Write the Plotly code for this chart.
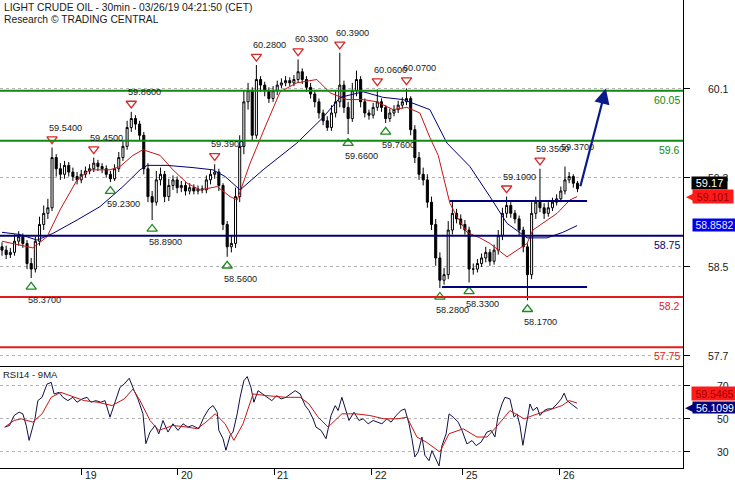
import plotly.graph_objects as go
from plotly.subplots import make_subplots

# ---------------- price data (hourly bars, index 0..138) ----------------
opens = [58.65, 58.62, 58.58, 58.60, 58.70, 58.74, 58.68, 58.50, 58.45, 58.70,
         58.85, 58.95, 59.00, 59.45, 59.35, 59.30, 59.38, 59.32, 59.28, 59.25,
         59.30, 59.33, 59.35, 59.40, 59.37, 59.35, 59.30, 59.26, 59.35, 59.45,
         59.55, 59.72, 59.80, 59.75, 59.65, 59.35, 59.10, 59.05, 59.25, 59.30,
         59.10, 59.20, 59.25, 59.18, 59.20, 59.15, 59.18, 59.15, 59.17, 59.16,
         59.25, 59.30, 59.32, 59.20, 58.85, 58.65, 58.68, 59.10, 59.55, 59.95,
         60.05, 59.65, 60.15, 60.10, 60.05, 59.98, 60.05, 60.10, 60.12, 60.14,
         60.12, 60.15, 60.22, 60.15, 60.08, 60.02, 59.95, 59.85, 59.78, 59.72,
         59.85, 59.95, 60.10, 59.90, 59.80, 60.05, 60.15, 59.95, 59.85, 59.83,
         59.90, 59.95, 59.90, 59.80, 59.85, 59.88, 59.92, 59.95, 59.98, 59.70,
         59.45, 59.30, 59.25, 59.05, 58.85, 58.55, 58.35, 58.40, 58.80, 58.95,
         58.90, 58.85, 58.80, 58.45, 58.45, 58.50, 58.55, 58.60, 58.52, 58.62,
         58.75, 58.95, 59.02, 58.95, 58.90, 58.80, 58.65, 58.40, 58.95, 59.05,
         59.00, 58.95, 59.00, 59.05, 59.08, 59.15, 59.25, 59.28, 59.22]
highs = [58.69, 58.66, 58.64, 58.76, 58.79, 58.77, 58.71, 58.55, 58.74, 58.92,
         59.02, 59.08, 59.54, 59.48, 59.40, 59.42, 59.41, 59.36, 59.32, 59.34,
         59.37, 59.39, 59.45, 59.43, 59.40, 59.38, 59.33, 59.39, 59.50, 59.60,
         59.78, 59.86, 59.83, 59.78, 59.68, 59.40, 59.15, 59.33, 59.36, 59.33,
         59.26, 59.29, 59.28, 59.24, 59.23, 59.22, 59.21, 59.20, 59.20, 59.29,
         59.34, 59.39, 59.35, 59.22, 58.88, 58.75, 59.18, 59.65, 60.05, 60.12,
         60.08, 60.28, 60.18, 60.13, 60.08, 60.09, 60.14, 60.16, 60.18, 60.17,
         60.19, 60.33, 60.25, 60.18, 60.12, 60.05, 59.98, 59.88, 59.82, 59.92,
         60.05, 60.39, 60.14, 59.95, 60.12, 60.23, 60.18, 59.98, 59.88, 59.94,
         60.06, 59.98, 59.92, 59.89, 59.92, 59.96, 59.99, 60.07, 60.00, 59.74,
         59.50, 59.36, 59.30, 59.10, 58.90, 58.60, 58.46, 58.88, 59.07, 58.99,
         58.94, 58.89, 58.83, 58.50, 58.54, 58.59, 58.65, 58.63, 58.67, 58.80,
         59.00, 59.10, 59.05, 58.98, 58.93, 58.83, 58.68, 59.05, 59.10, 59.35,
         59.04, 59.05, 59.09, 59.12, 59.19, 59.37, 59.32, 59.30, 59.24]
lows = [58.57, 58.54, 58.55, 58.57, 58.66, 58.64, 58.45, 58.37, 58.42, 58.66,
        58.80, 58.90, 58.97, 59.28, 59.25, 59.26, 59.28, 59.24, 59.21, 59.22,
        59.27, 59.30, 59.32, 59.33, 59.31, 59.27, 59.23, 59.24, 59.32, 59.42,
        59.52, 59.68, 59.70, 59.60, 59.30, 59.05, 58.89, 59.02, 59.20, 59.05,
        59.06, 59.16, 59.13, 59.14, 59.11, 59.12, 59.12, 59.12, 59.13, 59.13,
        59.21, 59.26, 59.15, 58.80, 58.56, 58.60, 58.64, 59.05, 59.48, 59.88,
        59.60, 59.62, 60.04, 60.00, 59.94, 59.95, 60.01, 60.07, 60.09, 60.09,
        60.09, 60.12, 60.11, 60.04, 59.98, 59.90, 59.80, 59.74, 59.69, 59.69,
        59.81, 59.90, 59.85, 59.66, 59.77, 60.00, 59.90, 59.81, 59.79, 59.80,
        59.87, 59.86, 59.76, 59.77, 59.82, 59.85, 59.89, 59.92, 59.65, 59.40,
        59.25, 59.20, 59.00, 58.80, 58.48, 58.28, 58.31, 58.36, 58.76, 58.86,
        58.81, 58.76, 58.33, 58.40, 58.42, 58.47, 58.51, 58.48, 58.49, 58.58,
        58.71, 58.91, 58.91, 58.86, 58.75, 58.60, 58.17, 58.36, 58.90, 58.96,
        58.90, 58.92, 58.97, 59.02, 59.05, 59.12, 59.22, 59.18, 59.14]
closes = [58.62, 58.58, 58.60, 58.70, 58.74, 58.68, 58.50, 58.45, 58.70, 58.85,
          58.95, 59.00, 59.45, 59.35, 59.30, 59.38, 59.32, 59.28, 59.25, 59.30,
          59.33, 59.35, 59.40, 59.37, 59.35, 59.30, 59.26, 59.35, 59.45, 59.55,
          59.72, 59.80, 59.75, 59.65, 59.35, 59.10, 59.05, 59.25, 59.30, 59.10,
          59.20, 59.25, 59.18, 59.20, 59.15, 59.18, 59.15, 59.17, 59.16, 59.25,
          59.30, 59.32, 59.20, 58.85, 58.65, 58.68, 59.10, 59.55, 59.95, 60.05,
          59.65, 60.15, 60.10, 60.05, 59.98, 60.05, 60.10, 60.12, 60.14, 60.12,
          60.15, 60.22, 60.15, 60.08, 60.02, 59.95, 59.85, 59.78, 59.72, 59.85,
          59.95, 60.10, 59.90, 59.80, 60.05, 60.15, 59.95, 59.85, 59.83, 59.90,
          59.95, 59.90, 59.80, 59.85, 59.88, 59.92, 59.95, 59.98, 59.70, 59.45,
          59.30, 59.25, 59.05, 58.85, 58.55, 58.35, 58.40, 58.80, 58.95, 58.90,
          58.85, 58.80, 58.45, 58.45, 58.50, 58.55, 58.60, 58.52, 58.62, 58.75,
          58.95, 59.02, 58.95, 58.90, 58.80, 58.65, 58.40, 58.95, 59.05, 59.00,
          58.95, 59.00, 59.05, 59.08, 59.15, 59.25, 59.28, 59.22, 59.17]
bar_index = list(range(len(closes)))

# moving averages (bar index, price)
ma_fast_x = [0, 7.4, 10.8, 13.9, 18.0, 21.1, 25.9, 28.3, 31.4, 33.8, 37.9, 41.0, 44.4, 47.5,
             51.6, 54.7, 56.4, 59.5, 63.5, 66.7, 70.7, 75.5, 78.7, 82.7, 86.6, 89.9, 93.8,
             97.1, 100.2, 102.6, 104.6, 106.0, 107.4, 109.1, 111.5, 114.6, 117.0, 121.1,
             123.5, 125.9, 127.3, 130.7, 133.1, 136.2, 137.9]
ma_fast_y = [58.70, 58.64, 58.74, 58.98, 59.25, 59.34, 59.34, 59.37, 59.47, 59.52, 59.47,
             59.34, 59.22, 59.16, 59.19, 59.10, 59.07, 59.40, 59.76, 60.04, 60.12, 60.15,
             60.03, 59.97, 59.97, 59.95, 59.88, 59.90, 59.85, 59.63, 59.47, 59.25, 59.04,
             58.92, 58.78, 58.73, 58.68, 58.56, 58.62, 58.68, 58.80, 58.89, 58.95, 59.07,
             59.10]
ma_slow_x = [0, 4.3, 8.4, 12.2, 18.0, 23.5, 29.0, 33.1, 34.8, 39.6, 45.8, 50.6, 53.5, 55.4,
             57.1, 62.6, 70.7, 77.0, 81.1, 86.6, 91.4, 96.2, 102.6, 106.7, 112.2, 117.0,
             121.1, 125.9, 130.7, 134.5, 137.9]
ma_slow_y = [58.78, 58.76, 58.71, 58.77, 58.89, 59.01, 59.19, 59.34, 59.38, 59.38, 59.36,
             59.34, 59.28, 59.22, 59.16, 59.34, 59.58, 59.81, 59.99, 60.04, 59.99, 59.97,
             59.88, 59.58, 59.37, 59.10, 58.86, 58.73, 58.73, 58.78, 58.84]

# RSI(14) and its 9-period MA
rsi_x = [0.65, 1.8, 2.9, 4.1, 5.0, 5.8, 6.5, 7.2, 7.9, 8.6,
         9.6, 10.8, 11.8, 12.5, 13.7, 14.6, 15.8, 17.0, 18.0, 19.2,
         20.4, 21.3, 22.5, 23.7, 24.7, 25.9, 27.1, 28.3, 29.3, 30.5,
         31.7, 32.6, 33.8, 34.5, 35.5, 36.7, 37.6, 38.6, 39.8, 41.0,
         42.2, 43.4, 44.6, 45.6, 47.2, 48.4, 49.6, 50.6, 51.6, 52.0,
         53.0, 53.7, 54.7, 55.4, 56.4, 57.1, 58.0, 58.8, 59.7, 60.4,
         61.4, 62.6, 63.5, 64.7, 65.9, 66.9, 68.1, 69.3, 70.3, 71.5,
         72.7, 73.6, 74.6, 75.3, 76.5, 77.7, 78.9, 79.9, 80.6, 81.5,
         82.5, 83.2, 84.4, 85.6, 86.6, 87.8, 89.0, 89.9, 91.1, 92.3,
         93.3, 94.5, 95.7, 96.6, 97.6, 98.3, 99.0, 99.8, 100.7, 101.4,
         102.4, 103.1, 103.8, 104.8, 105.5, 106.5, 107.2, 108.2, 109.4, 110.3,
         111.5, 112.7, 113.7, 114.9, 116.3, 117.3, 118.2, 118.9, 119.9, 120.6,
         121.8, 122.8, 123.5, 124.2, 124.9, 125.7, 126.6, 127.3, 128.3, 129.0,
         130.0, 130.9, 131.9, 133.1, 134.1, 134.8, 135.5, 136.5, 137.4, 138.0]
rsi_y = [45, 46, 52, 54, 53, 46, 37, 44, 50, 61,
         63, 71, 72, 65, 66, 63, 61, 63, 60, 62,
         63, 60, 61, 60, 61, 51, 60, 69, 71, 74.5,
         67, 62, 53, 35, 42, 46, 41, 49, 42, 47,
         43, 47, 45, 46, 44, 51, 56, 58, 54, 43,
         38, 31, 40, 42, 53, 63, 73, 75.5, 69, 60,
         67, 65, 63, 61, 64, 62, 63, 65, 67, 65,
         58, 55, 50, 45, 43, 38, 52, 58, 55, 63,
         55, 49, 54, 49, 50, 47, 49, 48, 47, 50,
         48, 52, 55, 56, 47, 38, 27, 30, 39, 28,
         24.7, 30.8, 26.7, 21.6, 33.8, 40.9, 53, 51, 48, 43,
         34.8, 36.9, 33.8, 36, 42, 43, 39, 51, 59, 63,
         62, 51, 53, 46, 34, 45, 59, 55, 57, 52,
         55, 56, 56, 59, 62, 65.5, 61, 59, 57, 56.11]
rsi_ma_x = [0.65, 2.9, 4.6, 7.4, 9.6, 11.8, 14.1, 16.3, 19.7, 23.0, 26.4, 29.3, 31.4, 33.1,
            35.5, 37.6, 41.0, 44.4, 46.8, 48.9, 51.1, 53.5, 55.6, 57.8, 60.2, 63.5, 68.1,
            71.5, 73.6, 75.8, 78.2, 81.5, 84.9, 88.2, 91.6, 95.0, 97.1, 99.5, 101.7, 105.0,
            107.2, 110.6, 113.9, 116.3, 118.5, 121.8, 125.2, 127.3, 130.9, 134.3, 136.0, 137.9]
rsi_ma_y = [45, 49, 50, 48, 53, 63, 66, 64, 61, 60, 58, 62, 68, 61,
            49, 43, 46, 45, 44, 48, 53, 47, 37, 47, 65, 64, 63,
            63, 59, 51, 45, 53, 53, 52, 50, 50, 51, 39, 36, 30,
            41, 44, 39, 39, 45, 55, 50, 52, 55, 58, 61, 59.55]

# swing highs / lows (bar index, price)
res_x = [12, 22, 31, 51, 61, 71, 81, 90, 97, 121, 129]
res_y = [59.54, 59.45, 59.86, 59.39, 60.28, 60.33, 60.39, 60.06, 60.07, 59.10, 59.35]
res_extra_x = [135]
res_extra_y = [59.37]
sup_x = [7, 26, 36, 54, 83, 92, 105, 112, 126]
sup_y = [58.37, 59.23, 58.89, 58.56, 59.66, 59.76, 58.28, 58.33, 58.17]

# horizontal levels
resist_levels = [60.05, 59.6]
pivot_levels = [58.75]
support_levels = [58.2, 57.75]
level_labels = {60.05: "60.05", 59.6: "59.6", 58.75: "58.75", 58.2: "58.2", 57.75: "57.75"}

# consolidation box
box_top = 59.06
box_top_x = [107.4, 140.3]
box_bottom = 58.29
box_bottom_x = [105.5, 140.3]

# projected target arrow
arrow_start = (138.6, 59.18)
arrow_end = (144.8, 60.07)

# axes
day_ticks = [19.1, 42.1, 65.3, 88.7, 110.5, 133.8]
day_labels = ["19", "20", "21", "22", "25", "26"]
price_ticks = [60.065, 59.267, 58.469, 57.671]
price_tick_labels = ["60.1", "59.3", "58.5", "57.7"]
rsi_ticks = [70, 50, 30]
rsi_tick_labels = ["70", "50", "30"]

last_close = 59.17
fast_ma_last = 59.101
slow_ma_last = 58.8582
rsi_last = 56.1099
rsi_ma_last = 59.5465

# ---------------- styles ----------------
FONT = "Liberation Sans, Arial, sans-serif"
GREEN = "#118a11"
NAVY = "#00007a"
RED = "#e01c1c"
TXT = "#1a1a1a"
PW = 683.0  # plot area width in px (for paper-coordinate offsets)

fig = make_subplots(rows=2, cols=1, shared_xaxes=True, vertical_spacing=0)

fig.add_trace(go.Candlestick(
    x=bar_index, open=opens, high=highs, low=lows, close=closes,
    increasing=dict(line=dict(color="black", width=1), fillcolor="white"),
    decreasing=dict(line=dict(color="black", width=1), fillcolor="black"),
    whiskerwidth=0, hoverinfo="skip"), row=1, col=1)
fig.add_trace(go.Scatter(x=ma_fast_x, y=ma_fast_y, mode="lines",
                         line=dict(color="#c81414", width=1), hoverinfo="skip"), row=1, col=1)
fig.add_trace(go.Scatter(x=ma_slow_x, y=ma_slow_y, mode="lines",
                         line=dict(color=NAVY, width=1), hoverinfo="skip"), row=1, col=1)
fig.add_trace(go.Scatter(x=res_x, y=[v + 0.075 for v in res_y], mode="markers",
                         marker=dict(symbol="triangle-down-open", size=9, color="#d42a2a",
                                     line=dict(width=1.3)), hoverinfo="skip"), row=1, col=1)
fig.add_trace(go.Scatter(x=sup_x, y=[v - 0.08 for v in sup_y], mode="markers",
                         marker=dict(symbol="triangle-up-open", size=9, color="#1e8a1e",
                                     line=dict(width=1.3)), hoverinfo="skip"), row=1, col=1)

fig.add_trace(go.Scatter(x=rsi_x, y=rsi_y, mode="lines",
                         line=dict(color="#101045", width=1), hoverinfo="skip"), row=2, col=1)
fig.add_trace(go.Scatter(x=rsi_ma_x, y=rsi_ma_y, mode="lines",
                         line=dict(color="#c81414", width=1), hoverinfo="skip"), row=2, col=1)

shapes = []
for lv in resist_levels:
    shapes.append(dict(type="line", xref="x domain", x0=0, x1=1, yref="y", y0=lv, y1=lv,
                       line=dict(color=GREEN, width=2)))
for lv in pivot_levels:
    shapes.append(dict(type="line", xref="x domain", x0=0, x1=1, yref="y", y0=lv, y1=lv,
                       line=dict(color=NAVY, width=2)))
for lv in support_levels:
    shapes.append(dict(type="line", xref="x domain", x0=0, x1=1, yref="y", y0=lv, y1=lv,
                       line=dict(color=RED, width=2)))
shapes.append(dict(type="line", xref="x", yref="y", x0=box_top_x[0], x1=box_top_x[1],
                   y0=box_top, y1=box_top, line=dict(color=NAVY, width=2)))
shapes.append(dict(type="line", xref="x", yref="y", x0=box_bottom_x[0], x1=box_bottom_x[1],
                   y0=box_bottom, y1=box_bottom, line=dict(color=NAVY, width=2)))

ann = []
def add(**kw):
    d = dict(showarrow=False)
    d.update(kw)
    ann.append(d)

# title
add(text="LIGHT CRUDE OIL - 30min - 03/26/19 04:21:50 (CET)", xref="paper", yref="paper",
    x=0, y=1, xanchor="left", yanchor="top", xshift=2, yshift=0,
    font=dict(family=FONT, size=10.3, color=TXT))
add(text="Research © TRADING CENTRAL", xref="paper", yref="paper",
    x=0, y=1, xanchor="left", yanchor="top", xshift=2, yshift=-12,
    font=dict(family=FONT, size=10.3, color=TXT))

# level labels
for lv, col in [(resist_levels[0], GREEN), (resist_levels[1], GREEN), (pivot_levels[0], NAVY),
                (support_levels[0], RED), (support_levels[1], RED)]:
    add(text=level_labels[lv], xref="paper", yref="y", x=1, y=lv, xanchor="right",
        yanchor="top", xshift=-1, yshift=-1, font=dict(family=FONT, size=10.5, color=col))

# swing labels
for xv, yv in zip(res_x + res_extra_x, res_y + res_extra_y):
    add(text=f"{yv:.4f}", xref="x", yref="y", x=xv, y=yv, xshift=13, yshift=20,
        font=dict(family=FONT, size=9.2, color=TXT))
for xv, yv in zip(sup_x, sup_y):
    add(text=f"{yv:.4f}", xref="x", yref="y", x=xv, y=yv, xshift=13, yshift=-22,
        font=dict(family=FONT, size=9.2, color=TXT))

# target arrow
ann.append(dict(x=arrow_end[0], y=arrow_end[1], ax=arrow_start[0], ay=arrow_start[1],
                xref="x", yref="y", axref="x", ayref="y", text="", showarrow=True,
                arrowhead=2, arrowsize=1.4, arrowwidth=2.2, arrowcolor="#0a1a8c",
                standoff=0, startstandoff=0))

# right axis tick labels
for tv, tt in zip(price_ticks, price_tick_labels):
    add(text=tt, xref="paper", yref="y", x=731 / PW, y=tv, xanchor="right",
        font=dict(family=FONT, size=10.5, color=TXT))
for tv, tt in zip(rsi_ticks, rsi_tick_labels):
    add(text=tt, xref="paper", yref="y2", x=731 / PW, y=tv, xanchor="right",
        font=dict(family=FONT, size=10.5, color=TXT))

# x-axis day labels
for tv, tt in zip(day_ticks, day_labels):
    add(text=tt, xref="x2", yref="paper", x=tv, y=0, xanchor="left", yanchor="top",
        xshift=1, yshift=1, font=dict(family=FONT, size=10.5, color=TXT))

# RSI label
add(text="RSI14 - 9MA", xref="paper", yref="y2", x=0, y=81.9, xanchor="left", yanchor="top",
    xshift=1, yshift=-1, font=dict(family=FONT, size=9.5, color=TXT))

# last-value tags
add(text=f"{last_close:.2f}", xref="paper", yref="y", x=690.5 / PW, y=last_close,
    xanchor="left", yshift=6, width=35, height=12, bgcolor="black", borderpad=0,
    font=dict(family=FONT, size=11, color="white"))
add(text="◀", xref="paper", yref="y", x=683.5 / PW, y=fast_ma_last, xanchor="left",
    font=dict(family="DejaVu Sans", size=11, color="#ff1a1a"))
add(text=f"{fast_ma_last:.3f}", xref="paper", yref="y", x=691.5 / PW, y=fast_ma_last,
    xanchor="left", width=40, height=13, bgcolor="#ff1a1a", borderpad=0,
    font=dict(family=FONT, size=10.5, color="#9a0000"))
add(text=f"{slow_ma_last:.4f}", xref="paper", yref="y", x=691.5 / PW, y=slow_ma_last,
    xanchor="left", yshift=-1, width=43, height=12, bgcolor="#0000f0", borderpad=0,
    font=dict(family=FONT, size=10.5, color="#e8e8ff"))
add(text=f"{rsi_ma_last:.4f}", xref="paper", yref="y2", x=690.5 / PW, y=rsi_ma_last,
    xanchor="left", yshift=9.5, width=45, height=13, bgcolor="#ff1a1a", borderpad=0,
    font=dict(family=FONT, size=10.5, color="#9a0000"))
add(text="◀", xref="paper", yref="y2", x=682.5 / PW, y=rsi_last, xanchor="left", yshift=1.5,
    font=dict(family="DejaVu Sans", size=11, color=NAVY))
add(text=f"{rsi_last:.4f}", xref="paper", yref="y2", x=691.5 / PW, y=rsi_last,
    xanchor="left", yshift=1.5, width=44, height=11, bgcolor=NAVY, borderpad=0,
    font=dict(family=FONT, size=10.5, color="white"))

split = (468 - 366) / 468.0
xr = [-0.48, 163.3]
fig.update_layout(
    width=735, height=480, margin=dict(l=0, r=52, t=0, b=12),
    paper_bgcolor="white", plot_bgcolor="white", showlegend=False,
    font=dict(family=FONT, size=10, color=TXT),
    shapes=shapes, annotations=ann,
    xaxis=dict(domain=[0, 1], range=xr, showgrid=False, zeroline=False, showticklabels=False,
               showline=True, linecolor="black", linewidth=1, ticks="",
               rangeslider=dict(visible=False)),
    xaxis2=dict(domain=[0, 1], range=xr, showgrid=False, zeroline=False, showticklabels=False,
                showline=True, linecolor="black", linewidth=1, ticks="outside", ticklen=6,
                tickcolor="black", tickvals=day_ticks, rangeslider=dict(visible=False)),
    yaxis=dict(domain=[split, 1], range=[57.581, 60.863], side="right", showgrid=True,
               gridcolor="#b4b4b4", griddash="dot", gridwidth=1, zeroline=False,
               tickvals=price_ticks, ticks="outside", ticklen=6, tickcolor="black",
               showticklabels=False, showline=True, linecolor="black", linewidth=1),
    yaxis2=dict(domain=[0, split], range=[20.3, 81.9], side="right", showgrid=True,
                gridcolor="#b4b4b4", griddash="dot", gridwidth=1, zeroline=False,
                tickvals=rsi_ticks, ticks="outside", ticklen=6, tickcolor="black",
                showticklabels=False, showline=True, linecolor="black", linewidth=1),
)

fig.write_html("out.html", config={"displayModeBar": False},
               post_script="document.body.style.margin='0';document.body.style.overflow='hidden';")
